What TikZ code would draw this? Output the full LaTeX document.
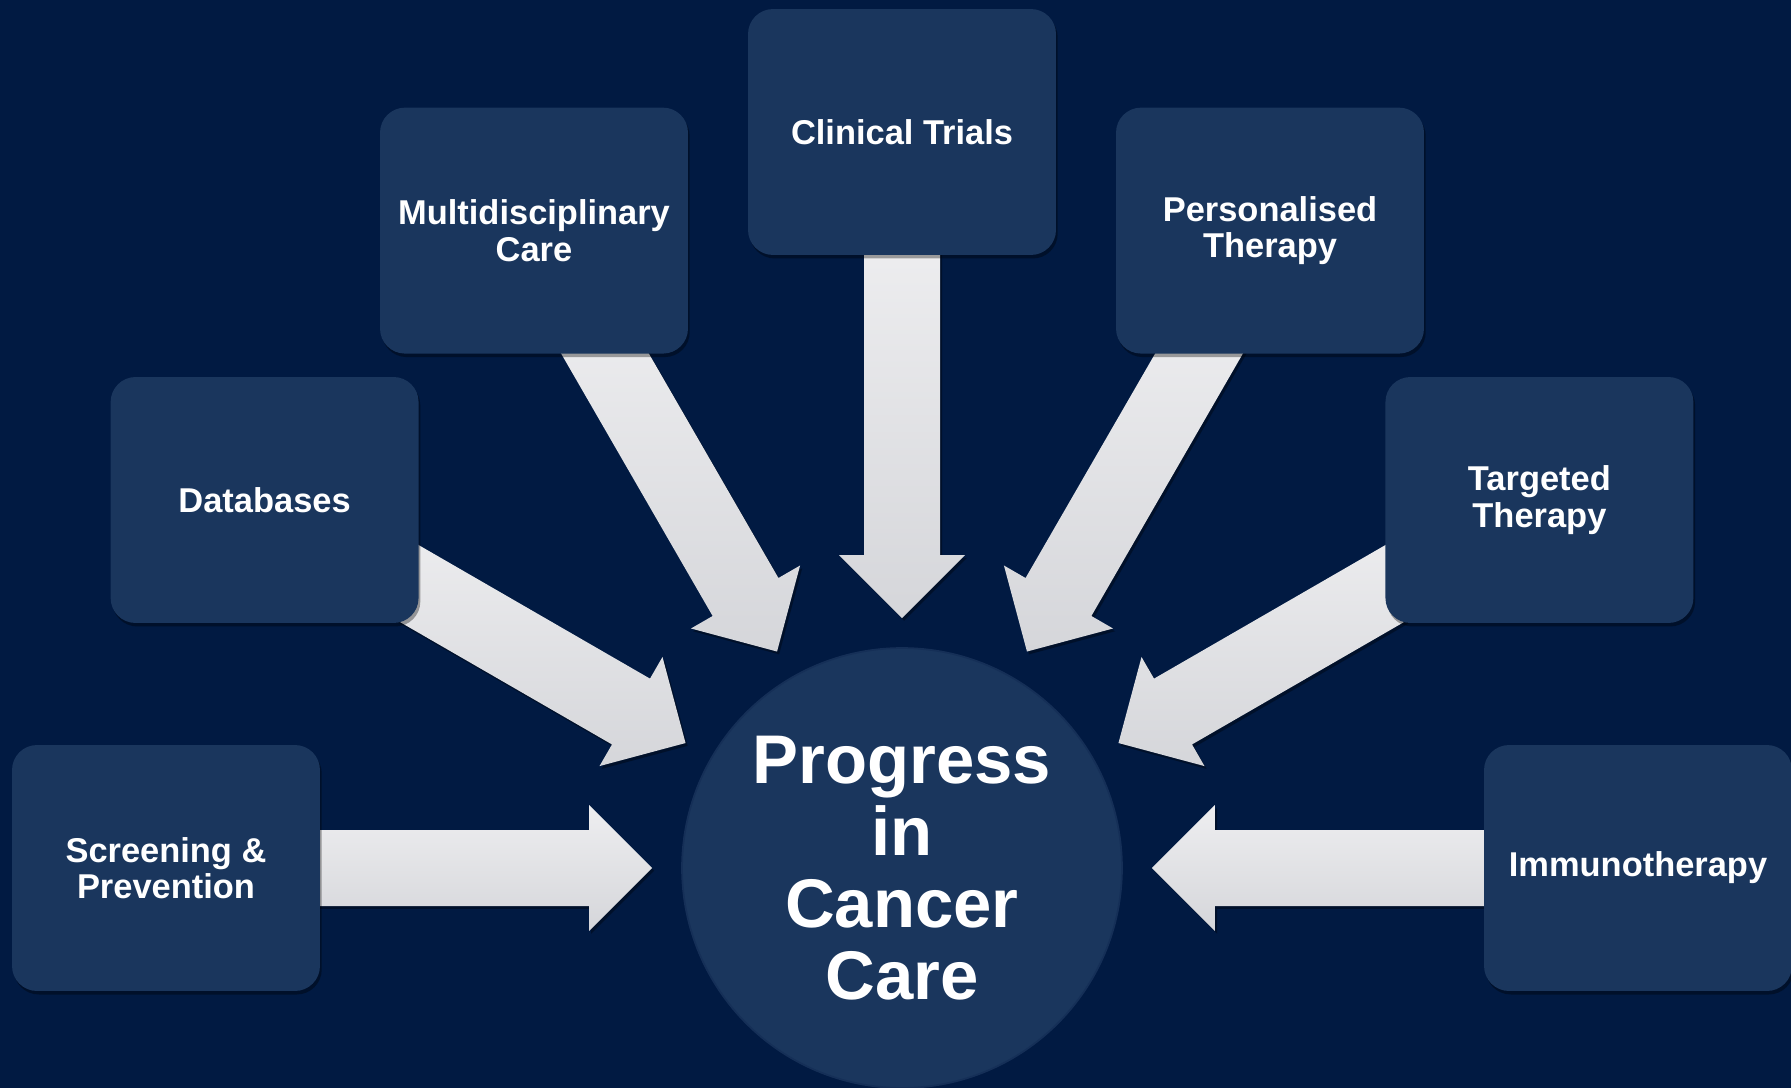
\documentclass[tikz,border=0pt]{standalone}
\usepackage{fontspec}
\setmainfont{Liberation Sans}
\usetikzlibrary{calc,shadows}

\definecolor{bgnavy}{HTML}{011A42}
\definecolor{tile}{HTML}{1A365D}
\definecolor{tileedge}{HTML}{152F57}
\definecolor{arrowtop}{HTML}{EEEEF0}
\definecolor{arrowbot}{HTML}{D5D6DA}

\pgfdeclarelayer{backdrop}
\pgfdeclarelayer{arrowlayer}
\pgfsetlayers{backdrop,arrowlayer,main}

\tikzset{
  tile/.style={rectangle, rounded corners=0.5cm, fill=tile,
    minimum width=6.16cm, minimum height=4.92cm, inner sep=0pt,
    align=center, text=white,
    font=\bfseries\fontsize{19.6}{20.8}\selectfont,
    drop shadow={shadow xshift=1pt, shadow yshift=-2pt, opacity=0.35, fill=black}},
  hubstyle/.style={circle, fill=tile, draw=tileedge, line width=1pt,
    minimum size=8.8cm, inner sep=0pt, align=center, text=white,
    font=\bfseries\fontsize{39.2}{41}\selectfont},
  blockarrow/.style={top color=arrowtop, bottom color=arrowbot,
    drop shadow={shadow xshift=1.2pt, shadow yshift=-1.6pt, opacity=0.35, fill=black}}
}

% Block arrow from a tile towards the hub: tip 250px from the hub centre,
% head 63px long, head half-width 63px, shaft half-width 38px.
\newcommand\feedarrow[1]{%
  \coordinate (T) at ($(hub.center)!5cm!(#1.center)$);
  \coordinate (H) at ($(hub.center)!6.26cm!(#1.center)$);
  \coordinate (S) at ($(hub.center)!12.8cm!(#1.center)$);
  \shade[blockarrow]
    ($(S)!0.76cm!90:(T)$) -- ($(H)!0.76cm!90:(T)$) -- ($(H)!1.26cm!90:(T)$)
    -- (T)
    -- ($(H)!1.26cm!-90:(T)$) -- ($(H)!0.76cm!-90:(T)$) -- ($(S)!0.76cm!-90:(T)$)
    -- cycle;
}

\begin{document}
\begin{tikzpicture}[x=0.02cm, y=-0.02cm]
  \useasboundingbox (0,0) rectangle (1791,1088);
  \clip (0,0) rectangle (1791,1088);
  \begin{pgfonlayer}{backdrop}
    \fill[bgnavy] (0,0) rectangle (1791,1088);
  \end{pgfonlayer}

  % centre hub
  \node[hubstyle] (hub) at (902,868) {Progress\\in\\Cancer\\Care};

  % tiles on a ring around the hub, 30 degrees apart
  \node[tile] (screen) at (166,868)    {Screening \&\\Prevention};
  \node[tile] (data)   at (264.6,500)  {Databases};
  \node[tile] (multi)  at (534,230.6)  {Multidisciplinary\\Care};
  \node[tile] (trials) at (902,132)    {Clinical Trials};
  \node[tile] (person) at (1270,230.6) {Personalised\\Therapy};
  \node[tile] (target) at (1539.4,500) {Targeted\\Therapy};
  \node[tile] (immuno) at (1638,868)   {Immunotherapy};

  \begin{pgfonlayer}{arrowlayer}
    \foreach \b in {screen,data,multi,trials,person,target,immuno}{
      \feedarrow{\b}
    }
  \end{pgfonlayer}
\end{tikzpicture}
\end{document}
